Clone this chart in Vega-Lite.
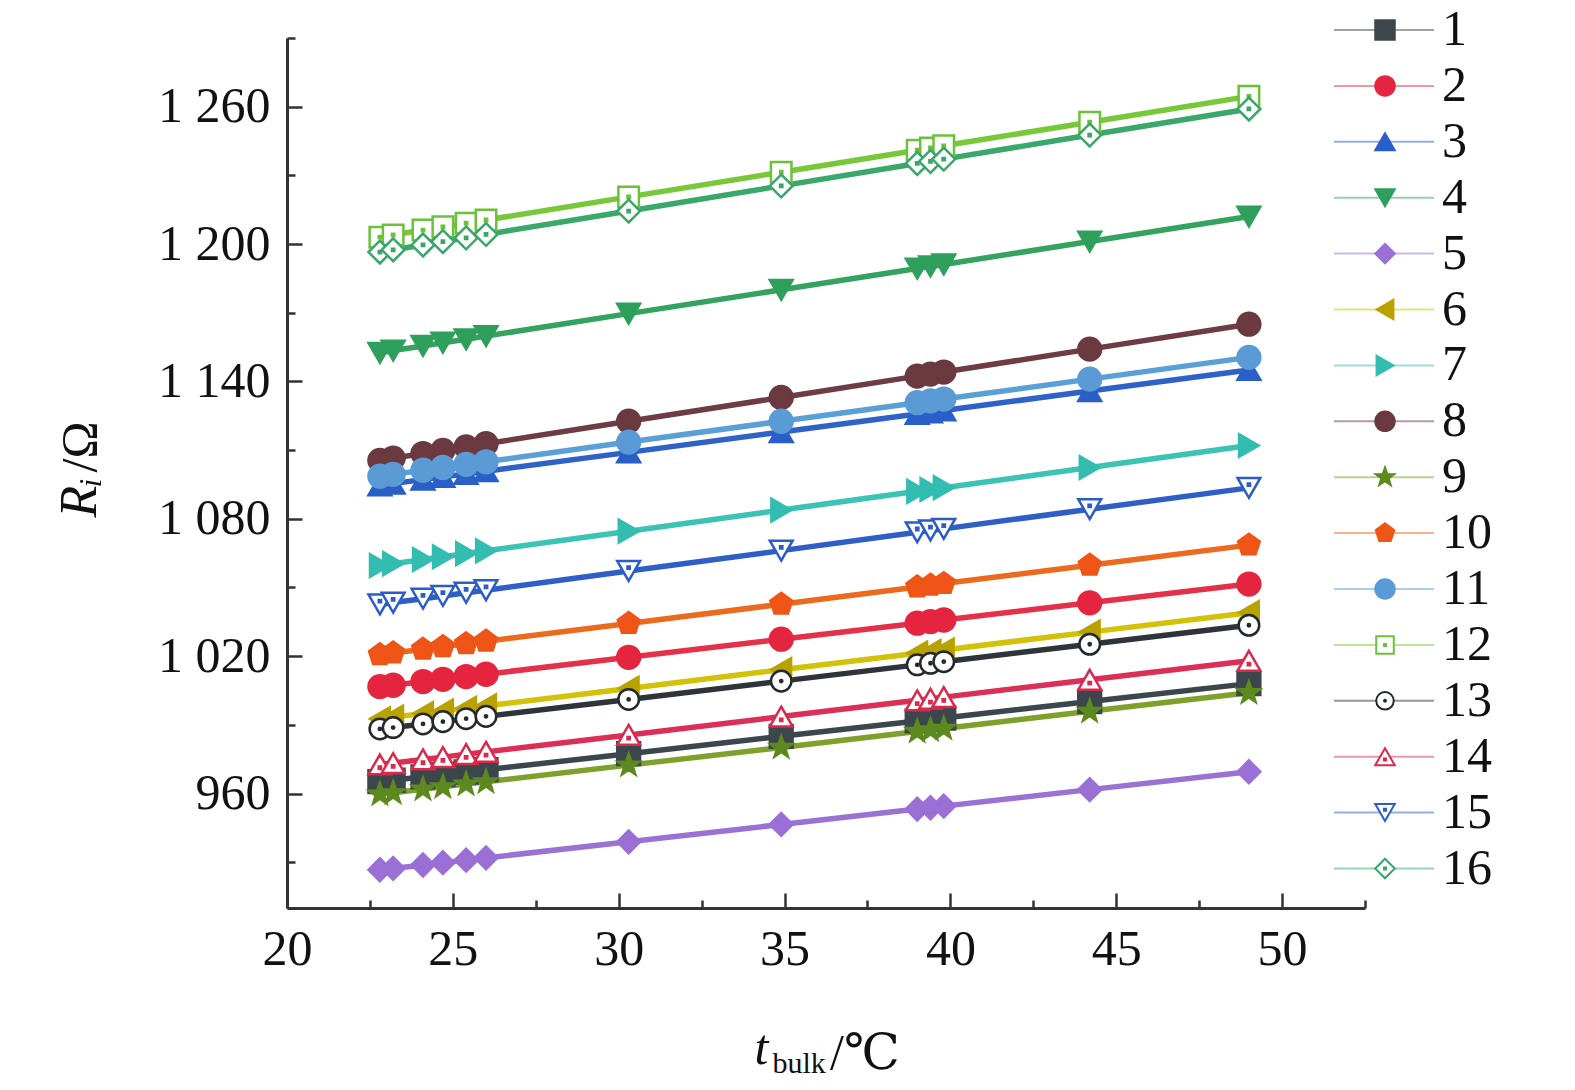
{
  "$schema": "https://vega.github.io/schema/vega-lite/v6.json",
  "width": 1078,
  "height": 870,
  "autosize": {"type": "none"},
  "padding": {"left": 287, "top": 38, "right": 210, "bottom": 182},
  "background": "white",
  "config": {"font": "Liberation Serif", "view": {"stroke": null}},
  "title": {"text": "/℃", "orient": "top", "anchor": "start", "frame": "group", "offset": 0, "dx": 543, "dy": 1104, "baseline": "alphabetic", "font": "Liberation Serif, DejaVu Serif", "fontSize": 50, "fontWeight": "normal", "color": "#111"},
  "data": {"values": [
    {"s":1,"t":22.8,"r":965.2},{"s":1,"t":23.2,"r":965.8},{"s":1,"t":24.1,"r":967.3},{"s":1,"t":24.7,"r":968.3},{"s":1,"t":25.4,"r":969.4},{"s":1,"t":26.0,"r":970.4},{"s":1,"t":30.3,"r":977.4},{"s":1,"t":34.9,"r":985.0},{"s":1,"t":39.0,"r":991.7},{"s":1,"t":39.4,"r":992.3},{"s":1,"t":39.8,"r":993.0},{"s":1,"t":44.2,"r":1000.2},{"s":1,"t":49.0,"r":1008.0},
    {"s":2,"t":22.8,"r":1006.7},{"s":2,"t":23.2,"r":1007.3},{"s":2,"t":24.1,"r":1008.9},{"s":2,"t":24.7,"r":1009.9},{"s":2,"t":25.4,"r":1011.1},{"s":2,"t":26.0,"r":1012.1},{"s":2,"t":30.3,"r":1019.5},{"s":2,"t":34.9,"r":1027.4},{"s":2,"t":39.0,"r":1034.4},{"s":2,"t":39.4,"r":1035.1},{"s":2,"t":39.8,"r":1035.8},{"s":2,"t":44.2,"r":1043.3},{"s":2,"t":49.0,"r":1051.5},
    {"s":3,"t":22.8,"r":1094.6},{"s":3,"t":23.2,"r":1095.4},{"s":3,"t":24.1,"r":1097.1},{"s":3,"t":24.7,"r":1098.3},{"s":3,"t":25.4,"r":1099.6},{"s":3,"t":26.0,"r":1100.8},{"s":3,"t":30.3,"r":1109.0},{"s":3,"t":34.9,"r":1117.9},{"s":3,"t":39.0,"r":1125.8},{"s":3,"t":39.4,"r":1126.5},{"s":3,"t":39.8,"r":1127.3},{"s":3,"t":44.2,"r":1135.8},{"s":3,"t":49.0,"r":1145.0},
    {"s":4,"t":22.8,"r":1152.5},{"s":4,"t":23.2,"r":1153.5},{"s":4,"t":24.1,"r":1155.5},{"s":4,"t":24.7,"r":1156.9},{"s":4,"t":25.4,"r":1158.4},{"s":4,"t":26.0,"r":1159.8},{"s":4,"t":30.3,"r":1169.6},{"s":4,"t":34.9,"r":1180.0},{"s":4,"t":39.0,"r":1189.3},{"s":4,"t":39.4,"r":1190.2},{"s":4,"t":39.8,"r":1191.1},{"s":4,"t":44.2,"r":1201.1},{"s":4,"t":49.0,"r":1212.0},
    {"s":5,"t":22.8,"r":926.7},{"s":5,"t":23.2,"r":927.3},{"s":5,"t":24.1,"r":928.8},{"s":5,"t":24.7,"r":929.8},{"s":5,"t":25.4,"r":930.9},{"s":5,"t":26.0,"r":931.9},{"s":5,"t":30.3,"r":938.9},{"s":5,"t":34.9,"r":946.5},{"s":5,"t":39.0,"r":953.2},{"s":5,"t":39.4,"r":953.8},{"s":5,"t":39.8,"r":954.5},{"s":5,"t":44.2,"r":961.7},{"s":5,"t":49.0,"r":969.5},
    {"s":6,"t":22.8,"r":992.6},{"s":6,"t":23.2,"r":993.4},{"s":6,"t":24.1,"r":994.9},{"s":6,"t":24.7,"r":996.0},{"s":6,"t":25.4,"r":997.2},{"s":6,"t":26.0,"r":998.3},{"s":6,"t":30.3,"r":1005.9},{"s":6,"t":34.9,"r":1014.1},{"s":6,"t":39.0,"r":1021.3},{"s":6,"t":39.4,"r":1022.0},{"s":6,"t":39.8,"r":1022.7},{"s":6,"t":44.2,"r":1030.5},{"s":6,"t":49.0,"r":1039.0},
    {"s":7,"t":22.8,"r":1059.6},{"s":7,"t":23.2,"r":1060.4},{"s":7,"t":24.1,"r":1062.2},{"s":7,"t":24.7,"r":1063.4},{"s":7,"t":25.4,"r":1064.8},{"s":7,"t":26.0,"r":1066.0},{"s":7,"t":30.3,"r":1074.6},{"s":7,"t":34.9,"r":1083.8},{"s":7,"t":39.0,"r":1092.0},{"s":7,"t":39.4,"r":1092.8},{"s":7,"t":39.8,"r":1093.6},{"s":7,"t":44.2,"r":1102.4},{"s":7,"t":49.0,"r":1112.0},
    {"s":8,"t":22.8,"r":1105.5},{"s":8,"t":23.2,"r":1106.5},{"s":8,"t":24.1,"r":1108.5},{"s":8,"t":24.7,"r":1109.9},{"s":8,"t":25.4,"r":1111.4},{"s":8,"t":26.0,"r":1112.8},{"s":8,"t":30.3,"r":1122.6},{"s":8,"t":34.9,"r":1133.0},{"s":8,"t":39.0,"r":1142.3},{"s":8,"t":39.4,"r":1143.2},{"s":8,"t":39.8,"r":1144.1},{"s":8,"t":44.2,"r":1154.1},{"s":8,"t":49.0,"r":1165.0},
    {"s":9,"t":22.8,"r":959.7},{"s":9,"t":23.2,"r":960.3},{"s":9,"t":24.1,"r":961.9},{"s":9,"t":24.7,"r":962.9},{"s":9,"t":25.4,"r":964.1},{"s":9,"t":26.0,"r":965.1},{"s":9,"t":30.3,"r":972.4},{"s":9,"t":34.9,"r":980.1},{"s":9,"t":39.0,"r":987.1},{"s":9,"t":39.4,"r":987.8},{"s":9,"t":39.8,"r":988.4},{"s":9,"t":44.2,"r":995.9},{"s":9,"t":49.0,"r":1004.0},
    {"s":10,"t":22.8,"r":1020.6},{"s":10,"t":23.2,"r":1021.4},{"s":10,"t":24.1,"r":1023.0},{"s":10,"t":24.7,"r":1024.1},{"s":10,"t":25.4,"r":1025.4},{"s":10,"t":26.0,"r":1026.5},{"s":10,"t":30.3,"r":1034.3},{"s":10,"t":34.9,"r":1042.7},{"s":10,"t":39.0,"r":1050.2},{"s":10,"t":39.4,"r":1051.0},{"s":10,"t":39.8,"r":1051.7},{"s":10,"t":44.2,"r":1059.7},{"s":10,"t":49.0,"r":1068.5},
    {"s":11,"t":22.8,"r":1098.6},{"s":11,"t":23.2,"r":1099.4},{"s":11,"t":24.1,"r":1101.2},{"s":11,"t":24.7,"r":1102.4},{"s":11,"t":25.4,"r":1103.8},{"s":11,"t":26.0,"r":1104.9},{"s":11,"t":30.3,"r":1113.5},{"s":11,"t":34.9,"r":1122.6},{"s":11,"t":39.0,"r":1130.7},{"s":11,"t":39.4,"r":1131.5},{"s":11,"t":39.8,"r":1132.3},{"s":11,"t":44.2,"r":1141.0},{"s":11,"t":49.0,"r":1150.5},
    {"s":12,"t":22.8,"r":1203.0},{"s":12,"t":23.2,"r":1204.0},{"s":12,"t":24.1,"r":1206.1},{"s":12,"t":24.7,"r":1207.5},{"s":12,"t":25.4,"r":1209.1},{"s":12,"t":26.0,"r":1210.5},{"s":12,"t":30.3,"r":1220.6},{"s":12,"t":34.9,"r":1231.4},{"s":12,"t":39.0,"r":1241.0},{"s":12,"t":39.4,"r":1242.0},{"s":12,"t":39.8,"r":1242.9},{"s":12,"t":44.2,"r":1253.2},{"s":12,"t":49.0,"r":1264.5},
    {"s":13,"t":22.8,"r":988.2},{"s":13,"t":23.2,"r":988.8},{"s":13,"t":24.1,"r":990.4},{"s":13,"t":24.7,"r":991.4},{"s":13,"t":25.4,"r":992.7},{"s":13,"t":26.0,"r":993.7},{"s":13,"t":30.3,"r":1001.1},{"s":13,"t":34.9,"r":1009.1},{"s":13,"t":39.0,"r":1016.2},{"s":13,"t":39.4,"r":1016.9},{"s":13,"t":39.8,"r":1017.6},{"s":13,"t":44.2,"r":1025.2},{"s":13,"t":49.0,"r":1033.5},
    {"s":14,"t":22.8,"r":972.7},{"s":14,"t":23.2,"r":973.3},{"s":14,"t":24.1,"r":974.9},{"s":14,"t":24.7,"r":975.9},{"s":14,"t":25.4,"r":977.2},{"s":14,"t":26.0,"r":978.2},{"s":14,"t":30.3,"r":985.6},{"s":14,"t":34.9,"r":993.6},{"s":14,"t":39.0,"r":1000.7},{"s":14,"t":39.4,"r":1001.4},{"s":14,"t":39.8,"r":1002.1},{"s":14,"t":44.2,"r":1009.7},{"s":14,"t":49.0,"r":1018.0},
    {"s":15,"t":22.8,"r":1042.6},{"s":15,"t":23.2,"r":1043.4},{"s":15,"t":24.1,"r":1045.1},{"s":15,"t":24.7,"r":1046.3},{"s":15,"t":25.4,"r":1047.7},{"s":15,"t":26.0,"r":1048.8},{"s":15,"t":30.3,"r":1057.2},{"s":15,"t":34.9,"r":1066.1},{"s":15,"t":39.0,"r":1074.1},{"s":15,"t":39.4,"r":1074.9},{"s":15,"t":39.8,"r":1075.6},{"s":15,"t":44.2,"r":1084.2},{"s":15,"t":49.0,"r":1093.5},
    {"s":16,"t":22.8,"r":1196.5},{"s":16,"t":23.2,"r":1197.5},{"s":16,"t":24.1,"r":1199.6},{"s":16,"t":24.7,"r":1201.1},{"s":16,"t":25.4,"r":1202.7},{"s":16,"t":26.0,"r":1204.2},{"s":16,"t":30.3,"r":1214.4},{"s":16,"t":34.9,"r":1225.4},{"s":16,"t":39.0,"r":1235.2},{"s":16,"t":39.4,"r":1236.1},{"s":16,"t":39.8,"r":1237.1},{"s":16,"t":44.2,"r":1247.6},{"s":16,"t":49.0,"r":1259.0}
  ]},
  "layer": [
    {
      "mark": {"type": "line", "strokeWidth": 5.5},
      "encoding": {
        "x": {"field": "t", "type": "quantitative",
          "scale": {"domain": [20, 52.5], "nice": false, "zero": false},
          "axis": {"orient": "bottom", "values": [20, 25, 30, 35, 40, 45, 50], "grid": false,
            "tickSize": -15, "tickWidth": 2.5, "tickColor": "#333", "domainColor": "#333", "domainWidth": 3,
            "labelFont": "Liberation Serif", "labelFontSize": 50, "labelColor": "#111", "labelPadding": 31, "labelFlush": false, "labelOverlap": false,
            "title": "t", "titleFont": "Liberation Serif", "titleFontSize": 50, "titleFontStyle": "italic", "titleFontWeight": "normal", "titleColor": "#111",
            "titleAlign": "left", "titleBaseline": "alphabetic", "titleX": 467, "titleY": 155}},
        "y": {"field": "r", "type": "quantitative",
          "scale": {"domain": [910, 1290], "nice": false, "zero": false},
          "axis": {"orient": "left", "values": [960, 1020, 1080, 1140, 1200, 1260], "grid": false,
            "tickSize": -15, "tickWidth": 2.5, "tickColor": "#333", "domainColor": "#333", "domainWidth": 3,
            "labelFont": "Liberation Serif", "labelFontSize": 50, "labelColor": "#111", "labelPadding": 32, "labelFlush": false, "labelOverlap": false,
            "labelExpr": "replace(format(datum.value, ','), ',', ' ')",
            "title": "Rᵢ", "titleFont": "Liberation Serif, DejaVu Serif", "titleFontSize": 52, "titleFontStyle": "italic", "titleFontWeight": "normal", "titleColor": "#111",
            "titleAngle": -90, "titleAlign": "left", "titleBaseline": "alphabetic", "titleX": -192, "titleY": 479}},
        "color": {"field": "s", "type": "nominal",
          "scale": {"domain": [1, 2, 3, 4, 5, 6, 7, 8, 9, 10, 11, 12, 13, 14, 15, 16],
            "range": ["#3c474d", "#e5304a", "#2f62c6", "#34a35f", "#9a72d4", "#d2c20a", "#3cc3b3", "#6e3c44", "#7da12a", "#ec6a1e", "#5aa0d6", "#79c83a", "#2e3439", "#dc2f55", "#2f5fc6", "#3aa86a"]},
          "legend": {"title": null, "orient": "none", "legendX": 1046, "legendY": -23, "direction": "vertical", "padding": 0,
            "symbolType": "stroke", "symbolSize": 10000, "symbolStrokeWidth": 2, "symbolOpacity": 0.5,
            "labelExpr": "''", "labelFont": "Liberation Serif", "labelFontSize": 50,
            "clipHeight": 30, "rowPadding": 5.9, "zindex": 0}}
      }
    },
    {
      "mark": {"type": "point", "filled": true, "size": 520, "strokeWidth": 2.5, "opacity": 1},
      "encoding": {
        "x": {"field": "t", "type": "quantitative",
          "axis": {"orient": "bottom", "values": [22.5, 27.5, 32.5, 37.5, 42.5, 47.5, 52.5], "grid": false, "domain": false, "labels": false,
            "tickSize": -8, "tickWidth": 2.5, "tickColor": "#333",
            "title": "bulk", "titleFont": "Liberation Serif", "titleFontSize": 30, "titleFontWeight": "normal", "titleColor": "#111",
            "titleAlign": "left", "titleBaseline": "alphabetic", "titleX": 485, "titleY": 164}},
        "y": {"field": "r", "type": "quantitative",
          "axis": {"orient": "left", "values": [930, 990, 1050, 1110, 1170, 1230, 1290], "grid": false, "domain": false, "labels": false,
            "tickSize": -8, "tickWidth": 2.5, "tickColor": "#333",
            "title": "/Ω", "titleFont": "Liberation Serif", "titleFontSize": 50, "titleFontWeight": "normal", "titleColor": "#111",
            "titleAngle": -90, "titleAlign": "left", "titleBaseline": "alphabetic", "titleX": -192, "titleY": 434}},
        "shape": {"field": "s", "type": "nominal",
          "scale": {"range": ["square", "circle", "triangle-up", "triangle-down", "diamond", "triangle-left", "triangle-right", "circle",
            "M0,-1L0.235,-0.324L0.951,-0.309L0.38,0.124L0.588,0.809L0,0.4L-0.588,0.809L-0.38,0.124L-0.951,-0.309L-0.235,-0.324Z",
            "M0,-1L0.951,-0.309L0.588,0.809L-0.588,0.809L-0.951,-0.309Z",
            "circle",
            "M-0.9,-0.9H0.9V0.9H-0.9ZM-0.1,-0.1H0.1V0.1H-0.1Z",
            "M0.9,0A0.9,0.9,0,1,1,-0.9,0A0.9,0.9,0,1,1,0.9,0ZM0.1,0A0.1,0.1,0,1,1,-0.1,0A0.1,0.1,0,1,1,0.1,0Z",
            "M0,-0.87L1,0.87L-1,0.87ZM-0.1,0.19H0.1V0.39H-0.1Z",
            "M0,0.87L1,-0.87L-1,-0.87ZM-0.1,-0.39H0.1V-0.19H-0.1Z",
            "M0,-1L1,0L0,1L-1,0ZM-0.1,-0.1H0.1V0.1H-0.1Z"]},
          "legend": {"title": null, "orient": "none", "legendX": 1073, "legendY": -23, "direction": "vertical", "padding": 0,
            "symbolSize": 380, "symbolStrokeWidth": 2,
            "labelFont": "Liberation Serif", "labelFontSize": 50, "labelColor": "#111", "labelOffset": 32,
            "clipHeight": 30, "rowPadding": 5.9, "zindex": 1}},
        "fill": {"field": "s", "type": "nominal",
          "scale": {"range": ["#3c474d", "#e5253f", "#2a5ec8", "#2f9f5c", "#9a6fd6", "#b8a200", "#33bdb0", "#6b3940", "#5d8a1e", "#ee5516", "#5b9bd5", "#ffffff", "#ffffff", "#ffffff", "#ffffff", "#ffffff"]}},
        "stroke": {"field": "s", "type": "nominal",
          "scale": {"range": ["#3c474d", "#e5253f", "#2a5ec8", "#2f9f5c", "#9a6fd6", "#b8a200", "#33bdb0", "#6b3940", "#5d8a1e", "#ee5516", "#5b9bd5", "#6cc13a", "#23292e", "#d9294d", "#2c5cc5", "#3aa66a"]}}
      }
    }
  ],
  "resolve": {"axis": {"x": "independent", "y": "independent"}}
}
